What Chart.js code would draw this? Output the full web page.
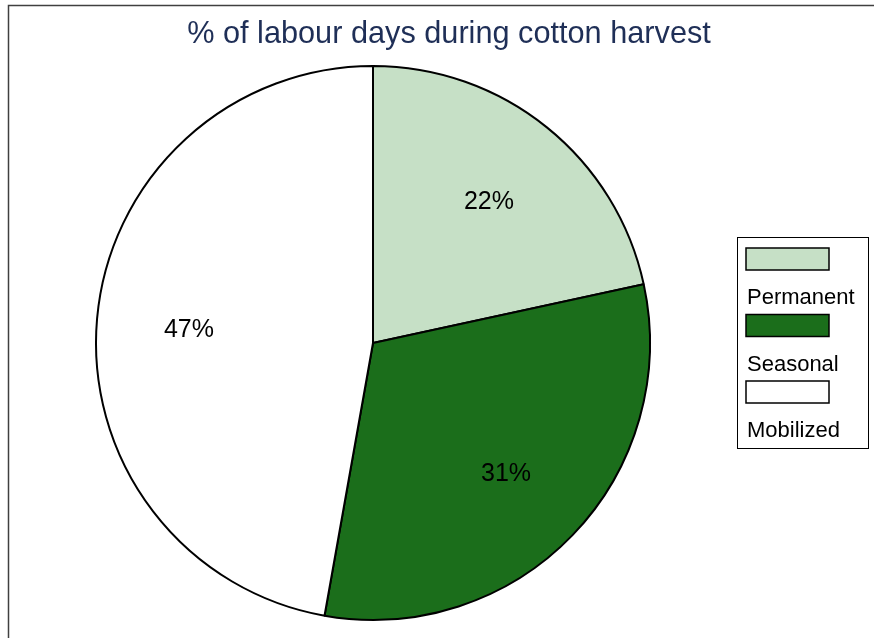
<!DOCTYPE html>
<html>
<head>
<meta charset="utf-8">
<script src="https://cdn.jsdelivr.net/npm/chart.js@4"></script>
<style>
  html, body { margin: 0; padding: 0; background: #fff; }
  #wrap { width: 874px; height: 638px; }
</style>
</head>
<body>
<div id="wrap"><canvas id="pie"></canvas></div>
<script>
const categories = ['Permanent', 'Seasonal', 'Mobilized'];
const shares = [21.6, 31.2, 47.2];
const sliceColors = ['#c6e0c6', '#1b6e1b', '#ffffff'];
const chartTitle = '% of labour days during cotton harvest';

// frame round the picture (only top and left edge are visible) + title
const framePlugin = {
    id: 'frame',
    beforeDraw(chart) {
        const c = chart.ctx;
        c.save();
        c.strokeStyle = '#404040';
        c.lineWidth = 1.5;
        c.beginPath();
        c.moveTo(8.5, chart.height);
        c.lineTo(8.5, 5.5);
        c.lineTo(chart.width, 5.5);
        c.stroke();
        c.fillStyle = '#1f2f57';
        c.font = '30.7px "Liberation Sans", Arial, sans-serif';
        c.textAlign = 'center';
        c.textBaseline = 'alphabetic';
        c.fillText(chartTitle, 449, 43);
        c.restore();
    }
};

// percentage text inside each slice
const sliceLabels = {
    id: 'sliceLabels',
    afterDatasetsDraw(chart) {
        const c = chart.ctx;
        const meta = chart.getDatasetMeta(0);
        c.save();
        c.font = '25px "Liberation Sans", Arial, sans-serif';
        c.fillStyle = '#000';
        c.textAlign = 'center';
        c.textBaseline = 'middle';
        meta.data.forEach((arc, i) => {
            const mid = (arc.startAngle + arc.endAngle) / 2;
            const r = arc.outerRadius * 0.667;
            c.fillText(Math.round(shares[i]) + '%', arc.x + Math.cos(mid) * r, arc.y + Math.sin(mid) * r + 3);
        });
        c.restore();
    }
};

// legend box: swatch above each name
const boxLegend = {
    id: 'boxLegend',
    afterDraw(chart) {
        const c = chart.ctx;
        const ds = chart.data.datasets[0];
        c.save();
        c.strokeStyle = '#000';
        c.lineWidth = 1;
        c.strokeRect(737.5, 237.5, 131, 211);
        c.font = '22px "Liberation Sans", Arial, sans-serif';
        c.textBaseline = 'middle';
        c.textAlign = 'left';
        chart.data.labels.forEach((name, i) => {
            const y = 248 + i * 66.5;
            c.fillStyle = ds.backgroundColor[i];
            c.fillRect(746, y, 83, 22);
            c.lineWidth = 1.5;
            c.strokeRect(746, y, 83, 22);
            c.fillStyle = '#000';
            c.fillText(name, 747, y + 50);
        });
        c.restore();
    }
};

new Chart(document.getElementById('pie'), {
    type: 'pie',
    data: {
        labels: categories,
        datasets: [{
            data: shares,
            backgroundColor: sliceColors,
            borderColor: '#000',
            borderWidth: 2
        }]
    },
    options: {
        responsive: true,
        maintainAspectRatio: false,
        animation: false,
        radius: 277,
        layout: { padding: { left: 0, right: 128, top: 48, bottom: 0 } },
        plugins: {
            legend: { display: false },
            tooltip: { enabled: false },
            title: { display: false }
        }
    },
    plugins: [framePlugin, sliceLabels, boxLegend]
});
</script>
</body>
</html>
